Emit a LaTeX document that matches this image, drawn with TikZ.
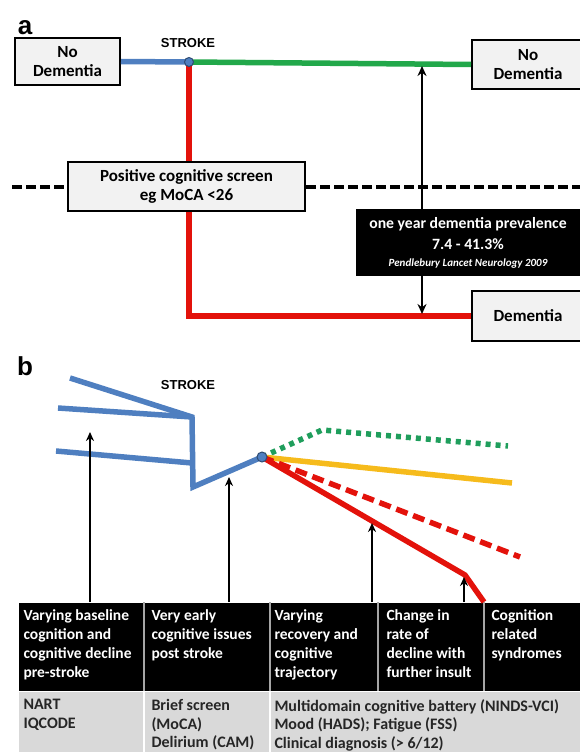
\documentclass[tikz,border=0pt]{standalone}
\usepackage{fontspec}
\setmainfont{Carlito}
\newfontfamily\arialfont{Liberation Sans}
\usetikzlibrary{arrows.meta, positioning, calc}
\definecolor{cblue}{HTML}{4F7FC0}
\definecolor{cgreen}{HTML}{22A84A}
\definecolor{cteal}{HTML}{1F9E5C}
\definecolor{cred}{HTML}{E3120B}
\definecolor{cyellow}{HTML}{F6BB1C}
\definecolor{cbox}{HTML}{F2F2F2}
\definecolor{crow}{HTML}{D9D9D9}
\definecolor{cdiv}{HTML}{A6A6A6}
\tikzset{
  every picture/.style={line width=1pt},
  box/.style={draw=black, fill=cbox, line width=2pt, align=center, inner sep=0pt, font=\fontsize{17}{19}\selectfont\bfseries},
  trend/.style={line width=5.5pt, line join=round},
  uparrow/.style={-{Stealth[length=9pt, width=8pt]}, line width=2pt},
  panel/.style={font=\arialfont\bfseries\fontsize{26}{26}\selectfont},
  strokelbl/.style={font=\arialfont\bfseries\fontsize{13}{13}\selectfont},
}
\begin{document}
\begin{tikzpicture}[x=1pt, y=-1pt,
    cell/.style={fill=black, minimum height=88pt, inner sep=0pt, anchor=north west},
    shade/.style={fill=crow, minimum height=64pt, inner sep=0pt, anchor=north west},
    celltext/.style={text=white, align=left, inner sep=0pt, font=\fontsize{15.5}{19}\selectfont\bfseries},
    shadetext/.style={celltext, text=black!85, font=\fontsize{16}{18.5}\selectfont\bfseries},
    divline/.style={draw=cdiv, line width=2pt},
    both/.style={{Stealth[length=10pt, width=9pt]}-{Stealth[length=10pt, width=9pt]}, line width=2pt},
  ]
  \useasboundingbox (0,0) rectangle (580,752);

  % panel a
  \node[panel] (la) at (25,28) {a};
  \node[strokelbl] (sa) at (188,43) {STROKE};
  \node[box, minimum width=105pt, minimum height=47pt] (ndL) at (67.5,61.5) {No\\Dementia};
  \node[box, minimum width=112pt, minimum height=49pt] (ndR) at (528,64.5) {No\\Dementia};
  \node[box, minimum width=112pt, minimum height=50pt] (dem) at (528,316) {Dementia};
  \coordinate (dotA) at (189,62);
  \coordinate (dL) at (12,187);
  \coordinate (dR) at (585,187);
  \coordinate (pTop) at (422,66);
  \coordinate (pBot) at (422,314);
  \draw[trend, cblue] (ndL.east) -- (dotA);
  \draw[trend, cgreen] (dotA) -- (ndR.west);
  \draw[trend, cred, line join=miter] (dotA) |- (dem.west);
  \filldraw[fill=cblue, draw=cblue!60!black, line width=1pt] (dotA) circle (4.5pt);
  \draw[line width=3.5pt, dash pattern=on 10pt off 4pt] (dL) -- (dR);
  \node[box, minimum width=237pt, minimum height=49pt] (pcs) at (186.5,186.5) {Positive cognitive screen\\eg MoCA <26};
  \draw[both] (pTop) -- (pBot);
  \node[fill=black, text=white, minimum width=224pt, minimum height=67pt, align=center, inner sep=0pt,
        font=\fontsize{15.7}{21}\selectfont\bfseries] (prev) at (468,242.5)
        {one year dementia prevalence\\7.4 - 41.3\%\\[-4pt]{\fontsize{11}{12}\selectfont\itshape Pendlebury Lancet Neurology 2009}};

  % panel b
  \node[panel] (lb) at (25,366) {b};
  \node[strokelbl] (sb) at (188,385) {STROKE};
  \coordinate (b1) at (70,378);
  \coordinate (b2) at (58,408);
  \coordinate (b3) at (56,451);
  \coordinate (bTop) at (192,417);
  \coordinate (bMid) at (192,463);
  \coordinate (bBot) at (193,487);
  \coordinate (dotB) at (262,457);
  \coordinate (gK) at (322,430);
  \coordinate (gE) at (508,446);
  \coordinate (yE) at (512,483);
  \coordinate (rdE) at (520,557);
  \coordinate (rK) at (465,575);

  % table
  \node[cell, minimum width=125pt] (c1) at (18,602) {};
  \node[cell, minimum width=125pt, right=0pt of c1] (c2) {};
  \node[cell, minimum width=107pt, right=0pt of c2] (c3) {};
  \node[cell, minimum width=105pt, right=0pt of c3] (c4) {};
  \node[cell, minimum width=105pt, right=0pt of c4] (c5) {};
  \node[shade, minimum width=125pt, below=0pt of c1] (g1) {};
  \node[shade, minimum width=125pt, below=0pt of c2] (g2) {};
  \node[shade, minimum width=317pt] (g3) at (c3.south west) {};
  \foreach \a in {c1,c2,c3,c4} \draw[divline] (\a.north east) -- (\a.south east);
  \foreach \a in {g1,g2} \draw[divline, draw=white] (\a.north east) -- (\a.south east);

  \node[celltext, below right=7pt and 5pt of c1.north west] (t1) {Varying baseline\\cognition and\\cognitive decline\\pre-stroke};
  \node[celltext, below right=7pt and 7pt of c2.north west] (t2) {Very early\\cognitive issues\\post stroke};
  \node[celltext, below right=7pt and 4pt of c3.north west] (t3) {Varying\\recovery and\\cognitive\\trajectory};
  \node[celltext, below right=7pt and 8pt of c4.north west] (t4) {Change in\\rate of\\decline with\\further insult};
  \node[celltext, below right=7pt and 7pt of c5.north west] (t5) {Cognition\\related\\syndromes};
  \node[shadetext, below right=8pt and 5pt of g1.north west] (s1) {NART\\IQCODE};
  \node[shadetext, below right=8pt and 7pt of g2.north west] (s2) {Brief screen\\(MoCA)\\Delirium (CAM)};
  \node[shadetext, below right=8pt and 4pt of g3.north west] (s3) {Multidomain cognitive battery (NINDS-VCI)\\Mood (HADS); Fatigue (FSS)\\Clinical diagnosis (> 6/12)};

  % trajectories
  \draw[trend, cblue, line join=miter] (b1) -- (bTop) -- (bBot) -- (dotB);
  \draw[trend, cblue] (b2) -- (bTop);
  \draw[trend, cblue] (b3) -- (bMid);
  \draw[trend, cteal, dash pattern=on 5pt off 5pt] (dotB) -- (gK) -- (gE);
  \draw[trend, cyellow] (dotB) -- (yE);
  \draw[trend, cred, dash pattern=on 12pt off 6pt] (dotB) -- (rdE);
  \draw[trend, cred] (dotB) -- (rK) -- (c5.north west);
  \filldraw[fill=cblue, draw=cblue!60!black, line width=1pt] (dotB) circle (5pt);

  \coordinate (a1) at (90,432);
  \coordinate (a2) at (229,477);
  \coordinate (a3) at (372,523);
  \coordinate (a4) at (464,577);
  \draw[uparrow] (a1 |- c1.north) -- (a1);
  \draw[uparrow] (a2 |- c2.north) -- (a2);
  \draw[uparrow] (a3 |- c3.north) -- (a3);
  \draw[uparrow] (a4 |- c4.north) -- (a4);
\end{tikzpicture}
\end{document}
